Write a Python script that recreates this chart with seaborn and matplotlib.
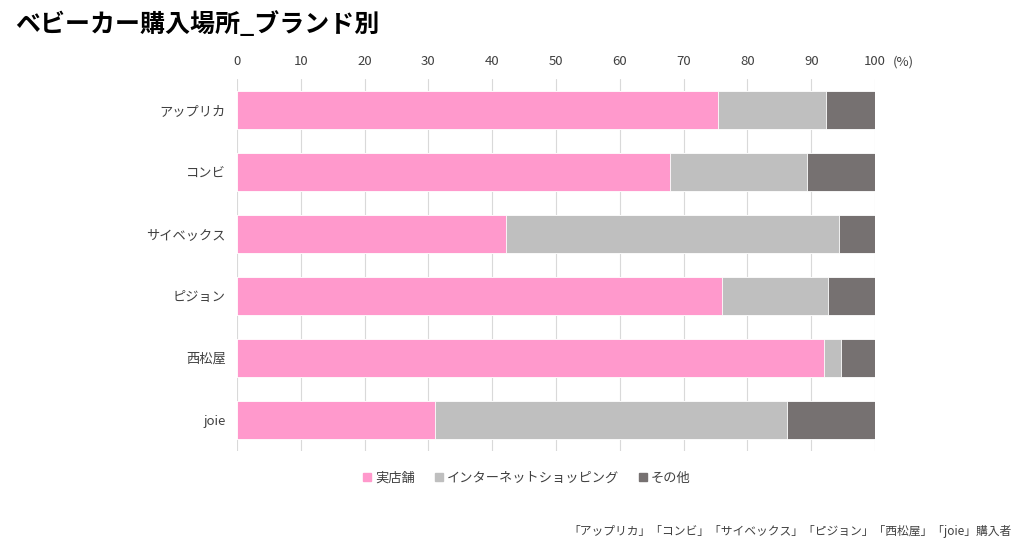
import matplotlib
matplotlib.use("Agg")
import matplotlib.pyplot as plt
import pandas as pd
import seaborn as sns
from matplotlib.lines import Line2D

brands = ["アップリカ", "コンビ", "サイベックス", "ピジョン", "西松屋", "joie"]
store = [75.4, 67.9, 42.1, 76.0, 92.0, 31.0]
internet = [16.9, 21.4, 52.3, 16.6, 2.6, 55.2]
other = [7.7, 10.7, 5.6, 7.4, 5.4, 13.8]
series_names = ["実店舗", "インターネットショッピング", "その他"]
colors = ["#FF99CC", "#BFBFBF", "#767171"]
x_ticks = list(range(0, 101, 10))

sns.set_style("white")
plt.rcParams["font.family"] = ["Noto Sans CJK JP", "DejaVu Sans"]

df = pd.DataFrame({"brand": brands, "store": store, "internet": internet, "other": other})
df["cum_store"] = df["store"]
df["cum_internet"] = df["store"] + df["internet"]
df["cum_other"] = df["cum_internet"] + df["other"]

fig = plt.figure(figsize=(10.24, 5.51), dpi=100)
ax = fig.add_axes([237 / 1024, 1 - 451 / 551, 638 / 1024, 372 / 551])

# stacked bars drawn back to front from cumulative totals
for col, color in zip(["cum_other", "cum_internet", "cum_store"], colors[::-1]):
    sns.barplot(data=df, x=col, y="brand", orient="h", color=color, width=0.61,
                saturation=1, edgecolor="white", linewidth=0.6, ax=ax, zorder=3)

ax.set_xlim(0, 100)
ax.set_xticks(x_ticks)
ax.xaxis.tick_top()
ax.tick_params(axis="x", length=0, labelsize=9.5, labelcolor="#404040", pad=8)
ax.tick_params(axis="y", length=0, labelsize=9.5, labelcolor="#404040", pad=8)
ax.set_xlabel("")
ax.set_ylabel("")
ax.grid(axis="x", color="#D9D9D9", linewidth=0.8, zorder=0)
ax.set_axisbelow(True)
for s in ax.spines.values():
    s.set_visible(False)

fig.text(893 / 1024, 1 - 62 / 551, "(%)", fontsize=9.5, color="#404040", va="center", ha="left")

fig.text(15 / 1024, 1 - 24 / 551, "ベビーカー購入場所_ブランド別", fontsize=18, fontweight="bold",
         color="#000000", va="center", ha="left")

handles = [Line2D([0], [0], marker="s", linestyle="", markersize=5.5, markerfacecolor=c,
                  markeredgecolor=c) for c in colors]
fig.legend(handles, series_names, loc="center", bbox_to_anchor=(527 / 1024, 1 - 478 / 551),
           ncol=3, frameon=False, fontsize=9.5, handlelength=0.6, handletextpad=0.3,
           columnspacing=1.5, labelcolor="#404040")

fig.text(1012 / 1024, 1 - 532 / 551,
         "「アップリカ」「コンビ」「サイベックス」「ピジョン」「西松屋」「joie」購入者",
         fontsize=8.5, color="#404040", va="center", ha="right")

fig.savefig("out.png", dpi=100)
